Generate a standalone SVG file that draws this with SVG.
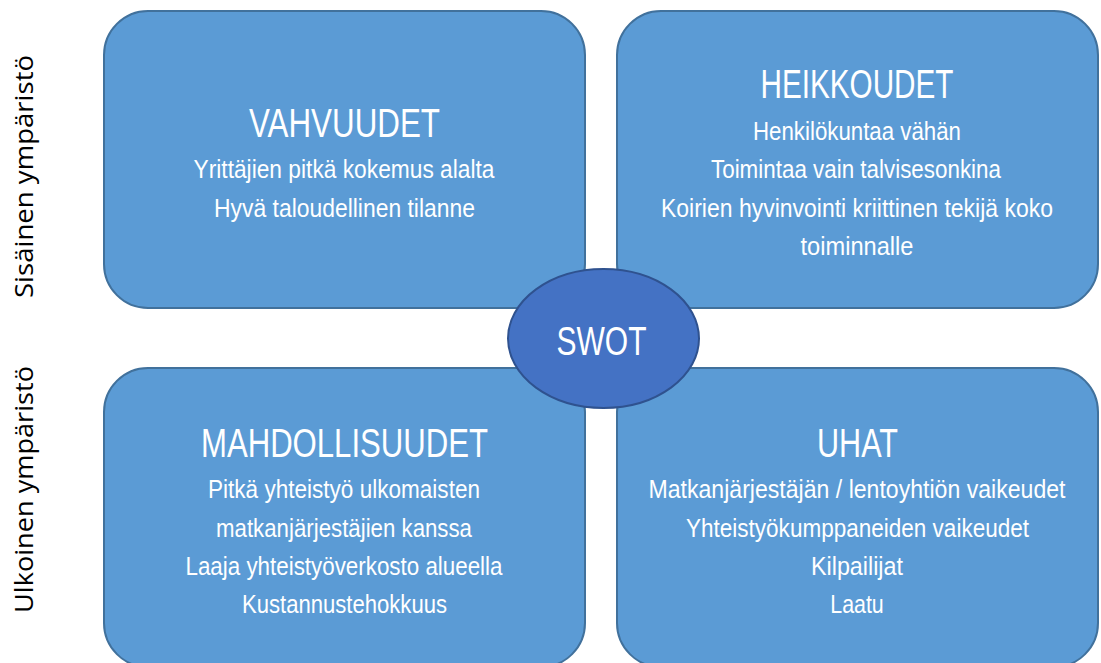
<svg xmlns="http://www.w3.org/2000/svg" width="1101" height="663" viewBox="0 0 1101 663">
<style>
.box{fill:#5B9BD5;stroke:#41719C;stroke-width:2}
.ell{fill:#4472C4;stroke:#2F528F;stroke-width:2}
.h{font-family:"Liberation Sans",Arial,sans-serif;font-size:40px;fill:#FFFFFF;text-anchor:middle}
.b{font-family:"Liberation Sans",Arial,sans-serif;font-size:26px;fill:#FFFFFF;text-anchor:middle}
.side{font-family:"Open Sans","DejaVu Sans",sans-serif;font-size:26px;fill:#000000;text-anchor:middle}
</style>
<rect width="1101" height="663" fill="#FFFFFF"/>
<g id="label-sisainen">
<text class="side" transform="translate(33,176.5) rotate(-90)" textLength="243" lengthAdjust="spacingAndGlyphs">Sisäinen ympäristö</text>
</g>
<g id="label-ulkoinen">
<text class="side" transform="translate(33,489.5) rotate(-90)" textLength="247" lengthAdjust="spacingAndGlyphs">Ulkoinen ympäristö</text>
</g>
<g id="vahvuudet">
<rect class="box" x="104" y="11" width="481" height="297" rx="44" ry="44"/>
<text class="h" x="344.5" y="137" textLength="191" lengthAdjust="spacingAndGlyphs">VAHVUUDET</text>
<text class="b" x="344" y="178" textLength="301" lengthAdjust="spacingAndGlyphs">Yrittäjien pitkä kokemus alalta</text>
<text class="b" x="344.5" y="217" textLength="261" lengthAdjust="spacingAndGlyphs">Hyvä taloudellinen tilanne</text>
</g>
<g id="heikkoudet">
<rect class="box" x="617" y="11" width="481" height="297" rx="44" ry="44"/>
<text class="h" x="857" y="98" textLength="193" lengthAdjust="spacingAndGlyphs">HEIKKOUDET</text>
<text class="b" x="857" y="140" textLength="208" lengthAdjust="spacingAndGlyphs">Henkilökuntaa vähän</text>
<text class="b" x="856" y="178" textLength="290" lengthAdjust="spacingAndGlyphs">Toimintaa vain talvisesonkina</text>
<text class="b" x="857" y="217" textLength="392" lengthAdjust="spacingAndGlyphs">Koirien hyvinvointi kriittinen tekijä koko</text>
<text class="b" x="857" y="255" textLength="113" lengthAdjust="spacingAndGlyphs">toiminnalle</text>
</g>
<g id="mahdollisuudet">
<rect class="box" x="104" y="368" width="481" height="299" rx="44" ry="44"/>
<text class="h" x="344.5" y="457" textLength="287" lengthAdjust="spacingAndGlyphs">MAHDOLLISUUDET</text>
<text class="b" x="344" y="498" textLength="272" lengthAdjust="spacingAndGlyphs">Pitkä yhteistyö ulkomaisten</text>
<text class="b" x="344" y="537" textLength="256" lengthAdjust="spacingAndGlyphs">matkanjärjestäjien kanssa</text>
<text class="b" x="344" y="575" textLength="317" lengthAdjust="spacingAndGlyphs">Laaja yhteistyöverkosto alueella</text>
<text class="b" x="344.5" y="613" textLength="205" lengthAdjust="spacingAndGlyphs">Kustannustehokkuus</text>
</g>
<g id="uhat">
<rect class="box" x="617" y="368" width="481" height="299" rx="44" ry="44"/>
<text class="h" x="857.5" y="457" textLength="81" lengthAdjust="spacingAndGlyphs">UHAT</text>
<text class="b" x="857" y="498" textLength="417" lengthAdjust="spacingAndGlyphs">Matkanjärjestäjän / lentoyhtiön vaikeudet</text>
<text class="b" x="857.5" y="537" textLength="343" lengthAdjust="spacingAndGlyphs">Yhteistyökumppaneiden vaikeudet</text>
<text class="b" x="857" y="575" textLength="92" lengthAdjust="spacingAndGlyphs">Kilpailijat</text>
<text class="b" x="857" y="613" textLength="53.5" lengthAdjust="spacingAndGlyphs">Laatu</text>
</g>
<g id="connectors"></g>
<g id="swot">
<ellipse class="ell" cx="603.5" cy="338.5" rx="95.5" ry="69.5"/>
<text class="h" x="601.5" y="355" textLength="90" lengthAdjust="spacingAndGlyphs">SWOT</text>
</g>
</svg>
